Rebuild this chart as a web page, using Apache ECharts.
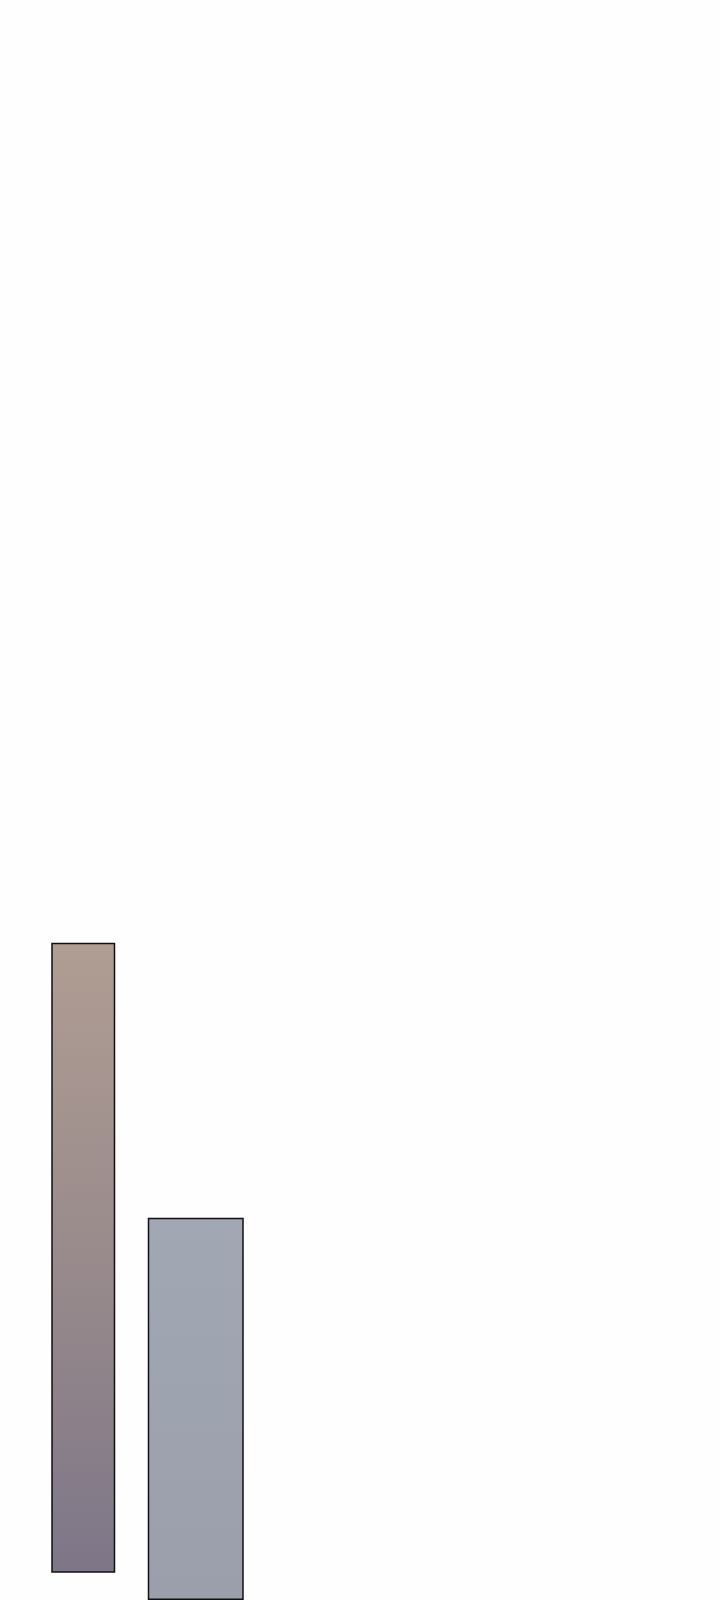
<!DOCTYPE html>
<html>
<head>
<meta charset="utf-8">
<script src="https://cdn.jsdelivr.net/npm/echarts@6/dist/echarts.min.js"></script>
<style>
html,body{margin:0;padding:0;background:#fefefe;}
#chart{width:720px;height:1600px;}
</style>
</head>
<body>
<div id="chart"></div>
<script>
var categories = ['A', 'B'];
// bar 1 floats: transparent base + visible height
var baseValues = [3.9, '-'];
var firstValues = [90.0, '-'];
var secondValues = ['-', 54.6];

var chart = echarts.init(document.getElementById('chart'));

var option = {
    backgroundColor: '#fefefe',
    animation: false,
    grid: {left: 27, right: 468, top: 900, bottom: -20, containLabel: false},
    xAxis: [
        {type: 'category', data: categories, show: false},
        {type: 'category', data: categories, show: false}
    ],
    yAxis: {type: 'value', min: 0, max: 100, show: false},
    series: [
        {
            type: 'bar', xAxisIndex: 0, stack: 'one', barWidth: 64,
            data: baseValues,
            itemStyle: {color: 'transparent'},
            silent: true
        },
        {
            type: 'bar', xAxisIndex: 0, stack: 'one', barWidth: 64,
            data: firstValues,
            itemStyle: {
                color: new echarts.graphic.LinearGradient(0, 0, 0, 1, [
                    {offset: 0, color: '#b09d93'},
                    {offset: 0.5, color: '#998b8c'},
                    {offset: 1, color: '#7e7688'}
                ]),
                borderColor: '#111111',
                borderWidth: 1.5
            }
        },
        {
            type: 'bar', xAxisIndex: 1, barWidth: 96,
            data: secondValues,
            itemStyle: {
                color: new echarts.graphic.LinearGradient(0, 0, 0, 1, [
                    {offset: 0, color: '#a1a7b3'},
                    {offset: 1, color: '#9a9fab'}
                ]),
                borderColor: '#111111',
                borderWidth: 1.5
            }
        }
    ]
};

chart.setOption(option);
</script>
</body>
</html>
